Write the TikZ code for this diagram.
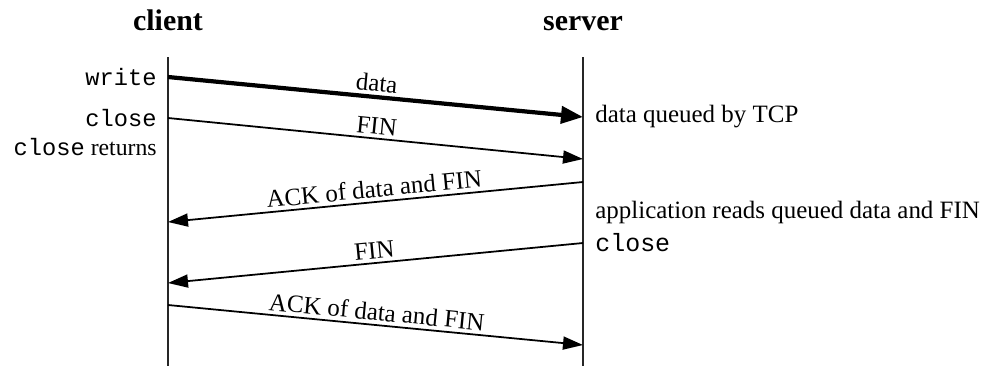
\documentclass[tikz,border=0pt]{standalone}
\usepackage{fontspec}
\setmainfont{Liberation Serif}
\setmonofont{Liberation Mono}
\usetikzlibrary{positioning,arrows.meta}

\begin{document}
\begin{tikzpicture}[
  x=0.02cm, y=-0.02cm,
  font=\fontsize{14.2}{17}\selectfont,
  every node/.style={inner sep=2pt},
  host/.style ={font=\fontsize{17}{20}\selectfont\bfseries, anchor=base},
  life/.style ={line width=1.4pt, draw=black!85},
  msg/.style  ={-{Triangle[length=4mm, width=2.6mm]}, line width=1pt},
  bulk/.style ={-{Triangle[length=4.4mm, width=3.4mm]}, line width=2.4pt},
  lbl/.style  ={sloped, above, inner sep=2pt},
  call/.style ={anchor=east, inner sep=0pt, font=\fontsize{13.5}{16}\selectfont},
  note/.style ={anchor=west, inner sep=0pt},
]
\useasboundingbox (0,0) rectangle (998,366);

% -------- hosts -----------------------------------------------------------
\node[host] (client) at (168,30) {client};
\node[host] (server) at (583,30) {server};

\coordinate (ctop) at (168,57);  \coordinate (cbot) at (168,366);
\coordinate (stop) at (583,57);  \coordinate (sbot) at (583,366);

\draw[life] (ctop) -- (cbot);
\draw[life] (stop) -- (sbot);

% -------- events ----------------------------------------------------------
\coordinate (c1) at (168,77);   \coordinate (s1) at (583,117);
\coordinate (c2) at (168,118);  \coordinate (s2) at (583,159);
\coordinate (s3) at (583,182);  \coordinate (c3) at (168,222);
\coordinate (s4) at (583,243);  \coordinate (c4) at (168,283);
\coordinate (c5) at (168,305);  \coordinate (s5) at (583,345);

% -------- client side -----------------------------------------------------
\node[call] (cwrite) at (157,77)  {\texttt{write}};
\node[call] (cclose) at (157,118) {\texttt{close}};
\node[call] (cret)   at (157,147) {\texttt{close} returns};

% -------- server side -----------------------------------------------------
\node[note] (queued) at (595,117) {data queued by TCP};
\node[note] (reads)  at (595,212) {application reads queued data and FIN};
\node[note] (sclose) at (595,243) {\texttt{close}};

% -------- segments --------------------------------------------------------
\draw[bulk] (c1) -- node[lbl] {data} (s1);

\foreach \a/\b/\t in {c2/s2/FIN, s3/c3/ACK of data and FIN,
                      s4/c4/FIN, c5/s5/ACK of data and FIN}
  \draw[msg] (\a) -- node[lbl] {\t} (\b);

\end{tikzpicture}
\end{document}
